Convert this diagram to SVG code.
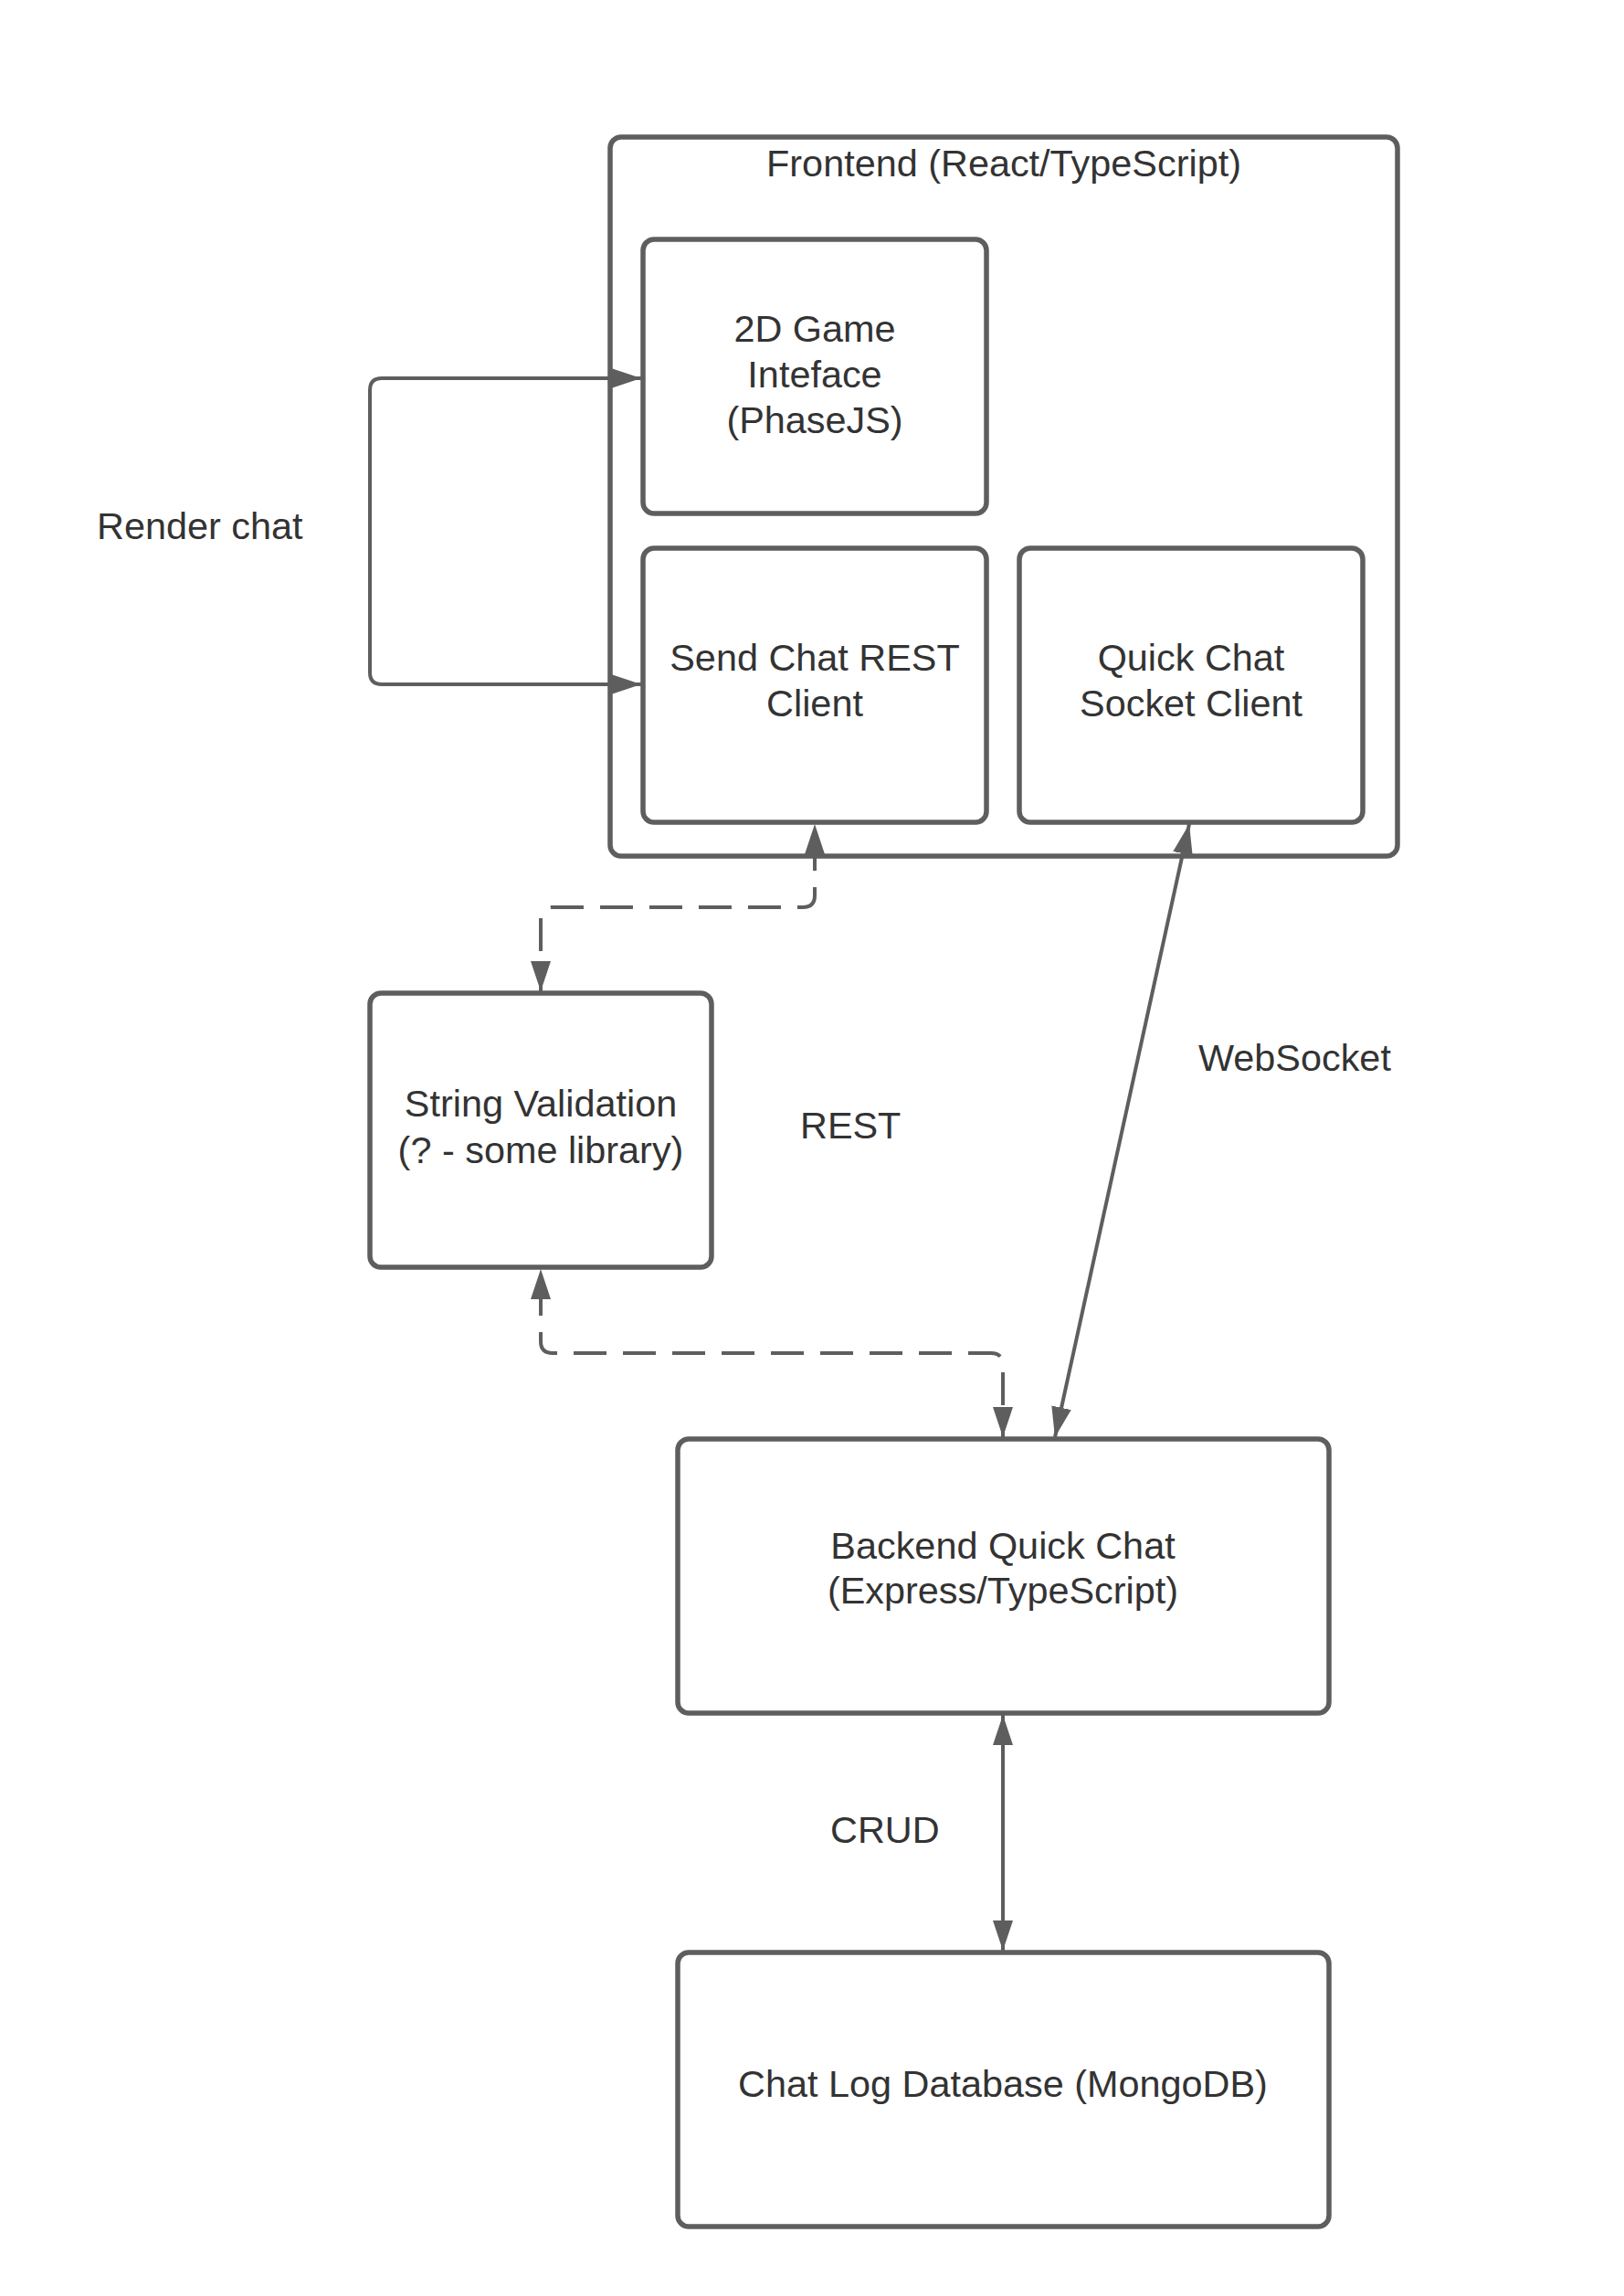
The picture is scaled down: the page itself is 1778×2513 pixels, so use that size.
<svg xmlns="http://www.w3.org/2000/svg" width="1778" height="2513" viewBox="0 0 1778 2513">
<style>
.box{fill:#ffffff;stroke:#5e5e5e;stroke-width:5.5}
.t{font-family:"Liberation Sans",Arial,sans-serif;font-size:41.4px;fill:#333333}
.c{text-anchor:middle}
.ln{fill:none;stroke:#5e5e5e;stroke-width:4;marker-start:url(#ah);marker-end:url(#ah)}
.d{stroke-dasharray:36 18;stroke-dashoffset:39}
</style>
<defs>
<marker id="ah" markerUnits="userSpaceOnUse" markerWidth="34" markerHeight="22" refX="33" refY="11" orient="auto-start-reverse">
<path d="M0,0 L33,11 L0,22 Z" fill="#5e5e5e"/>
</marker>
</defs>
<rect width="1778" height="2513" fill="#ffffff"/>
<g id="frontend">
<rect class="box" x="668" y="150" width="862" height="787" rx="12"/>
<text class="t c" x="1099" y="193">Frontend (React/TypeScript)</text>
</g>
<g id="game">
<rect class="box" x="704" y="262" width="376" height="300" rx="12"/>
<text class="t c" x="892" y="374">2D Game</text>
<text class="t c" x="892" y="424">Inteface</text>
<text class="t c" x="892" y="474">(PhaseJS)</text>
</g>
<g id="sendchat">
<rect class="box" x="704" y="600" width="376" height="300" rx="12"/>
<text class="t c" x="892" y="734">Send Chat REST</text>
<text class="t c" x="892" y="784">Client</text>
</g>
<g id="quickchat">
<rect class="box" x="1116" y="600" width="376" height="300" rx="12"/>
<text class="t c" x="1304" y="734">Quick Chat</text>
<text class="t c" x="1304" y="784">Socket Client</text>
</g>
<g id="validation">
<rect class="box" x="405" y="1087" width="374" height="300" rx="12"/>
<text class="t c" x="592" y="1222">String Validation</text>
<text class="t c" x="592" y="1273">(? - some library)</text>
</g>
<g id="backend">
<rect class="box" x="742" y="1575" width="713" height="300" rx="12"/>
<text class="t c" x="1098" y="1706">Backend Quick Chat</text>
<text class="t c" x="1098" y="1755">(Express/TypeScript)</text>
</g>
<g id="database">
<rect class="box" x="742" y="2137" width="713" height="300" rx="12"/>
<text class="t c" x="1098" y="2295">Chat Log Database (MongoDB)</text>
</g>
<g id="connectors">
<path class="ln" d="M702,749 H418 Q405,749 405,736 V427 Q405,414 418,414 H702"/>
<path class="ln d" d="M892,902 V980 Q892,993 879,993 H605 Q592,993 592,1006 V1085"/>
<path class="ln d" d="M592,1389 V1468 Q592,1481 605,1481 H1085 Q1098,1481 1098,1494 V1573"/>
<path class="ln" d="M1302,902 L1155,1573"/>
<path class="ln" d="M1098,1877 V2135"/>
<text class="t" x="106" y="590">Render chat</text>
<text class="t" x="876" y="1246">REST</text>
<text class="t" x="1312" y="1172">WebSocket</text>
<text class="t" x="909" y="2017">CRUD</text>
</g>
</svg>
